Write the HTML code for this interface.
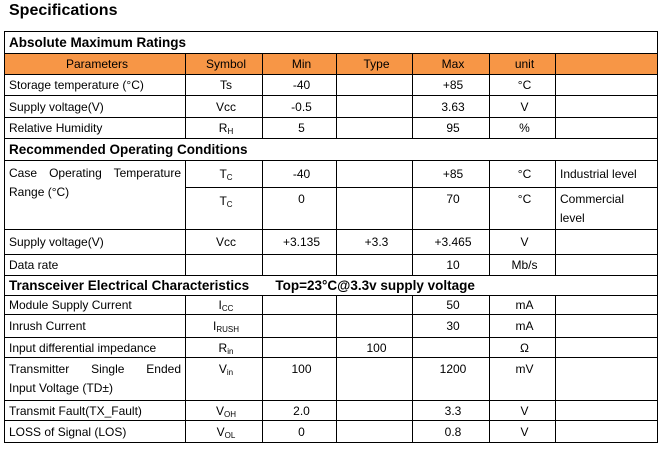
<!DOCTYPE html>
<html><head><meta charset="utf-8"><style>
body{margin:0;background:#fff;width:661px;height:450px;position:relative;font-family:"Liberation Sans",sans-serif;color:#000}
h1{position:absolute;left:9px;top:2px;margin:0;font-size:16px;font-weight:bold}
table{position:absolute;left:4px;top:31px;border-collapse:collapse;table-layout:fixed;width:653px;font-size:12px}
td{border:1px solid #000;padding:0 0 0 4px;text-align:center;vertical-align:middle;white-space:nowrap;overflow:hidden;line-height:14px}
td.l{text-align:left}
td.t{vertical-align:top;padding-top:2px;padding-bottom:0;line-height:19px;white-space:normal}
.jl{display:block;text-align:justify;text-align-last:justify;padding-right:4px}
tr.sec td{text-align:left;font-weight:bold;font-size:13.5px}
tr.hd td{background:#F79646}
sub{font-size:8px;vertical-align:-2px;line-height:0}
</style></head><body>
<h1>Specifications</h1>
<table>
<colgroup><col style="width:181px"><col style="width:77px"><col style="width:74px"><col style="width:76px"><col style="width:77px"><col style="width:66px"><col style="width:102px"></colgroup>
<tr class="sec" style="height:22px"><td colspan="7">Absolute Maximum Ratings</td></tr>
<tr class="hd" style="height:21px"><td>Parameters</td><td>Symbol</td><td>Min</td><td>Type</td><td>Max</td><td>unit</td><td></td></tr>
<tr style="height:21px"><td class="l">Storage temperature (°C)</td><td>Ts</td><td>-40</td><td></td><td>+85</td><td>°C</td><td></td></tr>
<tr style="height:22px"><td class="l">Supply voltage(V)</td><td>Vcc</td><td>-0.5</td><td></td><td>3.63</td><td>V</td><td></td></tr>
<tr style="height:21px"><td class="l">Relative Humidity</td><td>R<sub>H</sub></td><td>5</td><td></td><td>95</td><td>%</td><td></td></tr>
<tr class="sec" style="height:22px"><td colspan="7">Recommended Operating Conditions</td></tr>
<tr style="height:27px"><td class="l t" rowspan="2" style="padding-top:3px"><span class="jl">Case Operating Temperature</span>Range (°C)</td><td>T<sub>C</sub></td><td>-40</td><td></td><td>+85</td><td>°C</td><td class="l">Industrial level</td></tr>
<tr style="height:42px"><td style="vertical-align:top;padding-top:6px">T<sub>C</sub></td><td style="vertical-align:top;padding-top:4px">0</td><td></td><td style="vertical-align:top;padding-top:4px">70</td><td style="vertical-align:top;padding-top:4px">°C</td><td class="l t">Commercial<br>level</td></tr>
<tr style="height:25px"><td class="l">Supply voltage(V)</td><td>Vcc</td><td>+3.135</td><td>+3.3</td><td>+3.465</td><td>V</td><td></td></tr>
<tr style="height:21px"><td class="l">Data rate</td><td></td><td></td><td></td><td>10</td><td>Mb/s</td><td></td></tr>
<tr class="sec" style="height:20px"><td colspan="7">Transceiver Electrical Characteristics&nbsp;&nbsp;&nbsp;&nbsp;&nbsp;&nbsp;&nbsp;Top=23°C@3.3v supply voltage</td></tr>
<tr style="height:19px"><td class="l">Module Supply Current</td><td>I<sub>CC</sub></td><td></td><td></td><td>50</td><td>mA</td><td></td></tr>
<tr style="height:23px"><td class="l">Inrush Current</td><td>I<sub>RUSH</sub></td><td></td><td></td><td>30</td><td>mA</td><td></td></tr>
<tr style="height:20px"><td class="l">Input differential impedance</td><td>R<sub>in</sub></td><td></td><td>100</td><td></td><td>Ω</td><td></td></tr>
<tr style="height:43px"><td class="l t"><span class="jl">Transmitter Single Ended</span>Input Voltage (TD±)</td><td class="t">V<sub>in</sub></td><td class="t">100</td><td></td><td class="t">1200</td><td class="t">mV</td><td></td></tr>
<tr style="height:20px"><td class="l">Transmit Fault(TX_Fault)</td><td>V<sub>OH</sub></td><td>2.0</td><td></td><td>3.3</td><td>V</td><td></td></tr>
<tr style="height:22px"><td class="l">LOSS of Signal (LOS)</td><td>V<sub>OL</sub></td><td>0</td><td></td><td>0.8</td><td>V</td><td></td></tr>
</table>
</body></html>
